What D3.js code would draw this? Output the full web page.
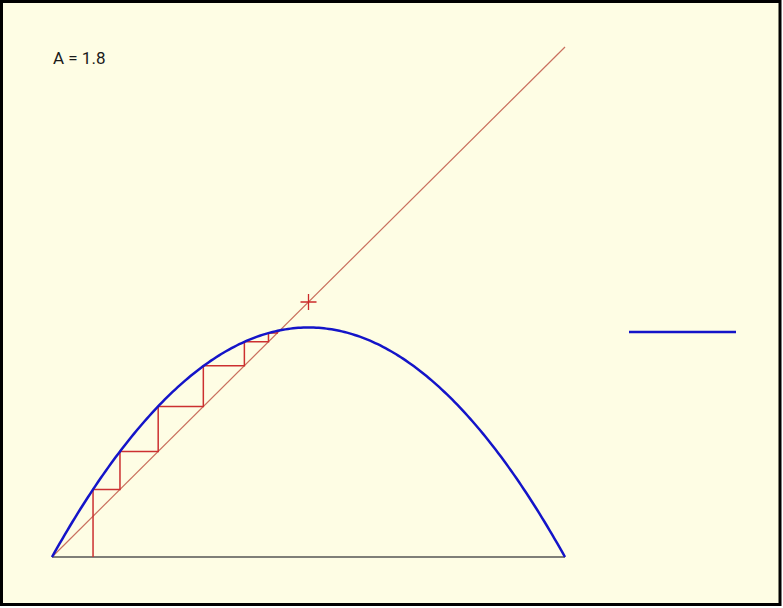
<!DOCTYPE html>
<html>
<head>
<meta charset="utf-8">
<script src="https://cdn.jsdelivr.net/npm/d3@7/dist/d3.min.js"></script>
<style>
  html, body { margin: 0; padding: 0; background: #ffffff; }
  svg { display: block; }
</style>
</head>
<body>
<svg id="chart" width="783" height="608"></svg>
<script>
// Logistic map f(x) = A·x·(1 − x), cobweb iteration from x0
const growthRate = 1.8;
const cobwebX = [0.08, 0.1325, 0.207, 0.295, 0.375, 0.422, 0.439, 0.443];
const markerPoint = [0.5, 0.5];
const attractorLevel = [0.441];
const labelText = "A = " + growthRate;

const svg = d3.select("#chart");

// frame
svg.append("rect")
  .attr("x", 1.5).attr("y", 1.5)
  .attr("width", 778.5).attr("height", 603)
  .attr("fill", "#fefde4")
  .attr("stroke", "#000").attr("stroke-width", 3);

const x = d3.scaleLinear().domain([0, 1]).range([52, 565]);
const y = d3.scaleLinear().domain([0, 1]).range([557, 47]);

const f = v => growthRate * v * (1 - v);

// baseline
svg.append("line")
  .attr("x1", x(0)).attr("x2", x(1))
  .attr("y1", y(0)).attr("y2", y(0))
  .attr("stroke", "#555").attr("stroke-width", 1.5);

// identity line y = x
svg.append("line")
  .attr("x1", x(0)).attr("y1", y(0))
  .attr("x2", x(1)).attr("y2", y(1))
  .attr("stroke", "#c9705e").attr("stroke-width", 1.2);

// cobweb path
const web = [[cobwebX[0], 0]];
for (let i = 0; i < cobwebX.length - 1; i++) {
  web.push([cobwebX[i], cobwebX[i + 1]]);
  web.push([cobwebX[i + 1], cobwebX[i + 1]]);
}
svg.append("path")
  .attr("d", d3.line().x(d => x(d[0])).y(d => y(d[1]))(web))
  .attr("fill", "none")
  .attr("stroke", "#cc3030").attr("stroke-width", 1.5);

// parabola
const xs = d3.range(0, 1.0001, 0.005);
svg.append("path")
  .attr("d", d3.line().x(d => x(d)).y(d => y(f(d)))(xs))
  .attr("fill", "none")
  .attr("stroke", "#1414c8").attr("stroke-width", 2.5);

// marker cross
const mx = x(markerPoint[0]), my = y(markerPoint[1]);
svg.append("path")
  .attr("d", `M${mx - 8},${my}H${mx + 8}M${mx},${my - 8}V${my + 8}`)
  .attr("stroke", "#cc2a2a").attr("stroke-width", 1.3).attr("fill", "none");

// attractor level
svg.append("line")
  .attr("x1", 629).attr("x2", 736)
  .attr("y1", y(attractorLevel[0])).attr("y2", y(attractorLevel[0]))
  .attr("stroke", "#1414c8").attr("stroke-width", 2.5);

// label
svg.append("text")
  .attr("x", 53).attr("y", 64)
  .attr("font-family", "Roboto, 'Open Sans', sans-serif")
  .attr("font-size", 17)
  .attr("fill", "#1a1a1a")
  .text(labelText);
</script>
</body>
</html>
